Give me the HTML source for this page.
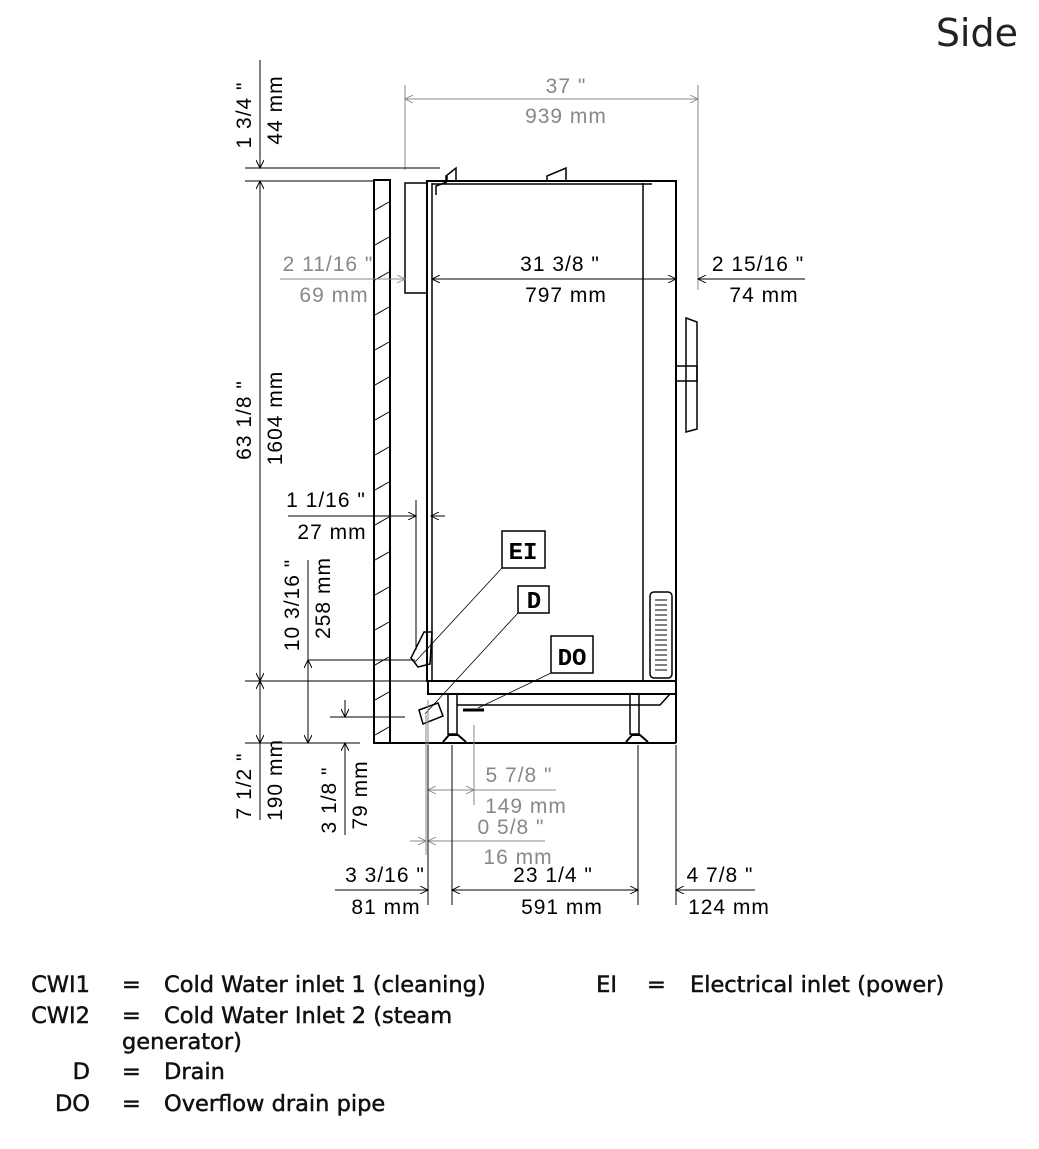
<!DOCTYPE html>
<html><head><meta charset="utf-8"><style>
body{margin:0;background:#fff;width:1039px;height:1144px;overflow:hidden;font-family:"Liberation Sans",sans-serif}
.t{font-family:"Liberation Sans",sans-serif;font-size:21px;letter-spacing:1px}
.lg{font-family:"DejaVu Sans","Liberation Sans",sans-serif;font-size:22.5px;fill:#111;stroke:#111;stroke-width:0.5}
</style></head><body>
<svg width="1039" height="1144" viewBox="0 0 1039 1144" xmlns="http://www.w3.org/2000/svg">
<defs>
<marker id="a" viewBox="0 0 10 10" refX="10" refY="5" markerWidth="12" markerHeight="8" orient="auto-start-reverse" markerUnits="userSpaceOnUse"><path d="M0,0 L10,5 L0,10" fill="none" stroke="#000" stroke-width="1.2"/></marker>
<marker id="g" viewBox="0 0 10 10" refX="10" refY="5" markerWidth="12" markerHeight="8" orient="auto-start-reverse" markerUnits="userSpaceOnUse"><path d="M0,0 L10,5 L0,10" fill="none" stroke="#888" stroke-width="1.2"/></marker>
</defs>
<text x="1018" y="46" text-anchor="end" font-family="DejaVu Sans,sans-serif" font-size="38" fill="#222">Side</text>

<g fill="none" stroke="#000" stroke-width="2">
<rect x="374" y="180" width="16" height="563"/>
<line x1="390" y1="743" x2="676" y2="743"/>
<line x1="676" y1="180" x2="676" y2="743"/>
</g>
<g stroke="#000" stroke-width="1">
<path d="M375,210 L389,202 M375,245 L389,237 M375,280 L389,272 M375,315 L389,307 M375,350 L389,342 M375,385 L389,377 M375,420 L389,412 M375,455 L389,447 M375,490 L389,482 M375,525 L389,517 M375,560 L389,552 M375,595 L389,587 M375,630 L389,622 M375,665 L389,657 M375,700 L389,692 M375,735 L389,727"/>
</g>
<g fill="none" stroke="#000">
<rect x="427" y="181" width="249" height="500" stroke-width="2"/>
<line x1="432" y1="183" x2="432" y2="681" stroke-width="1.5"/>
<line x1="643" y1="183" x2="643" y2="681" stroke-width="1.5"/>
<line x1="432" y1="184" x2="652" y2="184" stroke-width="1.5"/>
<rect x="405" y="183" width="22" height="110" stroke-width="1.5"/>
<rect x="428" y="681" width="248" height="13" stroke-width="2"/>
<path d="M436,195 L436,186 L447,182 M447,176 L447,181" stroke-width="1.5"/>
<path d="M547,182 L547,176 L566,168 L566,182" stroke-width="1.5"/>
<path d="M446,182 L446,176 L456,168 L456,182" stroke-width="1.5"/>
<path d="M686,318 L697,322 L697,429 L686,432 Z" stroke-width="1.5"/>
<rect x="676" y="366" width="21" height="15" stroke-width="1.5"/>
<rect x="650" y="592" width="22" height="86" rx="4" stroke-width="1.5"/>
<path d="M655,600h12M655,605h12M655,610h12M655,615h12M655,620h12M655,625h12M655,630h12M655,635h12M655,640h12M655,645h12M655,650h12M655,655h12M655,660h12M655,665h12M655,670h12" stroke-width="1"/>
<rect x="448" y="694" width="9" height="40" stroke-width="1.5"/>
<rect x="630" y="694" width="9" height="40" stroke-width="1.5"/>
<path d="M443,742 L449,735 L458,735 L466,742" stroke-width="2"/>
<path d="M626,742 L632,735 L640,735 L648,742" stroke-width="2"/>
<path d="M457,705 L660,705 L670,694" stroke-width="1.5"/>
<path d="M463,710 L484,710" stroke-width="3"/>
<path d="M419,710 L438,703 L443,716 L423,724 Z" stroke-width="1.5"/>
<path d="M411,658 L424,632 L432,632 L430,664 L418,667 Z" stroke-width="1.5"/>
</g>
<g fill="#fff" stroke="#000" stroke-width="1.5">
<rect x="502" y="531" width="43" height="37"/>
<rect x="518" y="586" width="31" height="27"/>
<rect x="551" y="636" width="42" height="37"/>
</g>
<g font-family="Liberation Mono,monospace" font-weight="bold" font-size="24" text-anchor="middle">
<text x="523" y="559">EI</text><text x="534" y="608">D</text><text x="572" y="665">DO</text>
</g>
<g stroke="#000" stroke-width="0.8">
<line x1="502" y1="568" x2="415" y2="662"/>
<line x1="518" y1="613" x2="425" y2="714"/>
<line x1="551" y1="673" x2="478" y2="708"/>
</g>

<g stroke="#888" stroke-width="1">
<line x1="405" y1="85" x2="405" y2="170"/>
<line x1="698" y1="85" x2="698" y2="290"/>
<line x1="405" y1="99" x2="698" y2="99" marker-start="url(#g)" marker-end="url(#g)"/>
<line x1="280" y1="279" x2="405" y2="279"/>
<line x1="390" y1="279" x2="405" y2="279" marker-end="url(#g)"/>
<line x1="447" y1="279" x2="432" y2="279" marker-end="url(#g)"/>
<line x1="428" y1="790" x2="556" y2="790"/>
<line x1="428" y1="790" x2="474" y2="790" marker-start="url(#g)" marker-end="url(#g)"/>
<line x1="474" y1="725" x2="474" y2="805"/>
<line x1="426" y1="715" x2="426" y2="855"/>
<line x1="410" y1="841" x2="426" y2="841" marker-end="url(#g)"/>
<line x1="442" y1="841" x2="428" y2="841" marker-end="url(#g)"/>
<line x1="428" y1="841" x2="545" y2="841"/>
<line x1="428" y1="700" x2="428" y2="855"/>
</g>
<g stroke="#000" stroke-width="1">
<line x1="245" y1="168" x2="440" y2="168"/>
<line x1="245" y1="181" x2="375" y2="181"/>
<line x1="260" y1="140" x2="260" y2="168" marker-end="url(#a)"/>
<line x1="260" y1="60" x2="260" y2="168"/>
<line x1="260" y1="181" x2="260" y2="681" marker-start="url(#a)" marker-end="url(#a)"/>
<line x1="245" y1="681" x2="428" y2="681"/>
<line x1="260" y1="681" x2="260" y2="743" marker-start="url(#a)" marker-end="url(#a)"/>
<line x1="245" y1="743" x2="360" y2="743"/>
<line x1="260" y1="743" x2="260" y2="820"/>
<line x1="308" y1="560" x2="308" y2="743"/>
<line x1="308" y1="660" x2="308" y2="743" marker-start="url(#a)" marker-end="url(#a)"/>
<line x1="308" y1="660" x2="415" y2="660"/>
<line x1="330" y1="717" x2="405" y2="717"/>
<line x1="345" y1="700" x2="345" y2="717" marker-end="url(#a)"/>
<line x1="345" y1="760" x2="345" y2="743" marker-end="url(#a)"/>
<line x1="345" y1="743" x2="345" y2="835"/>
<line x1="432" y1="279" x2="676" y2="279" marker-start="url(#a)" marker-end="url(#a)"/>
<line x1="720" y1="279" x2="698" y2="279" marker-end="url(#a)"/>
<line x1="698" y1="279" x2="805" y2="279"/>
<line x1="288" y1="516" x2="416" y2="516" marker-end="url(#a)"/>
<line x1="445" y1="516" x2="431" y2="516" marker-end="url(#a)"/>
<line x1="416" y1="500" x2="416" y2="650"/>
<line x1="428" y1="745" x2="428" y2="905"/>
<line x1="452" y1="745" x2="452" y2="905"/>
<line x1="638" y1="745" x2="638" y2="905"/>
<line x1="676" y1="745" x2="676" y2="905"/>
<line x1="335" y1="890" x2="428" y2="890" marker-end="url(#a)"/>
<line x1="452" y1="890" x2="638" y2="890" marker-start="url(#a)" marker-end="url(#a)"/>
<line x1="755" y1="890" x2="676" y2="890" marker-end="url(#a)"/>
</g>

<g class="t" fill="#888">
<text x="566" y="93" text-anchor="middle">37 "</text>
<text x="566" y="123" text-anchor="middle">939 mm</text>
<text x="328" y="271" text-anchor="middle">2 11/16 "</text>
<text x="334" y="302" text-anchor="middle">69 mm</text>
<text x="519" y="782" text-anchor="middle">5 7/8 "</text>
<text x="526" y="813" text-anchor="middle">149 mm</text>
<text x="511" y="834" text-anchor="middle">0 5/8 "</text>
<text x="518" y="864" text-anchor="middle">16 mm</text>
</g>
<g class="t" fill="#000">
<text x="560" y="271" text-anchor="middle">31 3/8 "</text>
<text x="566" y="302" text-anchor="middle">797 mm</text>
<text x="758" y="271" text-anchor="middle">2 15/16 "</text>
<text x="764" y="302" text-anchor="middle">74 mm</text>
<text x="326" y="507" text-anchor="middle">1 1/16 "</text>
<text x="332" y="539" text-anchor="middle">27 mm</text>
<text x="385" y="882" text-anchor="middle">3 3/16 "</text>
<text x="386" y="914" text-anchor="middle">81 mm</text>
<text x="553" y="882" text-anchor="middle">23 1/4 "</text>
<text x="562" y="914" text-anchor="middle">591 mm</text>
<text x="720" y="882" text-anchor="middle">4 7/8 "</text>
<text x="729" y="914" text-anchor="middle">124 mm</text>
<text transform="translate(251,115) rotate(-90)" text-anchor="middle">1 3/4 "</text>
<text transform="translate(282,110) rotate(-90)" text-anchor="middle">44 mm</text>
<text transform="translate(251,420) rotate(-90)" text-anchor="middle">63 1/8 "</text>
<text transform="translate(282,418) rotate(-90)" text-anchor="middle">1604 mm</text>
<text transform="translate(299,605) rotate(-90)" text-anchor="middle">10 3/16 "</text>
<text transform="translate(330,598) rotate(-90)" text-anchor="middle">258 mm</text>
<text transform="translate(251,786) rotate(-90)" text-anchor="middle">7 1/2 "</text>
<text transform="translate(282,780) rotate(-90)" text-anchor="middle">190 mm</text>
<text transform="translate(336,800) rotate(-90)" text-anchor="middle">3 1/8 "</text>
<text transform="translate(367,795) rotate(-90)" text-anchor="middle">79 mm</text>
</g>

<g class="lg">
<text x="90" y="992" text-anchor="end">CWI1</text><text x="122" y="992">=</text><text x="164" y="992">Cold Water inlet 1 (cleaning)</text>
<text x="90" y="1023" text-anchor="end">CWI2</text><text x="122" y="1023">=</text><text x="164" y="1023">Cold Water Inlet 2 (steam</text>
<text x="122" y="1049">generator)</text>
<text x="90" y="1079" text-anchor="end">D</text><text x="122" y="1079">=</text><text x="164" y="1079">Drain</text>
<text x="90" y="1111" text-anchor="end">DO</text><text x="122" y="1111">=</text><text x="164" y="1111">Overflow drain pipe</text>
<text x="617" y="992" text-anchor="end">EI</text><text x="647" y="992">=</text><text x="690" y="992">Electrical inlet (power)</text>
</g>
</svg>
</body></html>
